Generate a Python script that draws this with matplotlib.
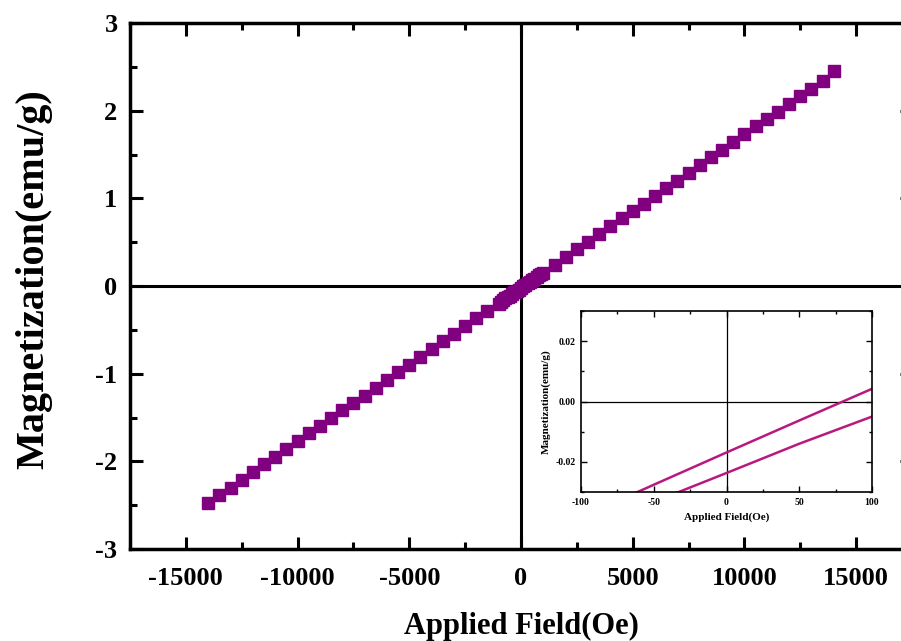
import matplotlib.pyplot as plt
from matplotlib.ticker import MultipleLocator, FixedLocator

plt.rcParams['font.family'] = ['Liberation Serif', 'DejaVu Serif']
plt.rcParams['font.weight'] = 'bold'
plt.rcParams['axes.unicode_minus'] = False

# main loop (Oe, emu/g)
campo = [-14000, -13500, -13000, -12500, -12000, -11500, -11000, -10500, -10000,
         -9500, -9000, -8500, -8000, -7500, -7000, -6500, -6000, -5500, -5000,
         -4500, -4000, -3500, -3000, -2500, -2000, -1500, -1000, -500, 0,
         500, 1000, 1500, 2000, 2500, 3000, 3500, 4000, 4500, 5000, 5500, 6000,
         6500, 7000, 7500, 8000, 8500, 9000, 9500, 10000, 10500, 11000, 11500,
         12000, 12500, 13000, 13500, 14000]
magn = [-2.47, -2.38, -2.30, -2.21, -2.12, -2.03, -1.95, -1.86, -1.77,
        -1.68, -1.60, -1.51, -1.42, -1.33, -1.25, -1.16, -1.07, -0.98, -0.90,
        -0.81, -0.72, -0.63, -0.55, -0.46, -0.37, -0.28, -0.20, -0.11, -0.02,
        0.07, 0.15, 0.24, 0.33, 0.42, 0.50, 0.59, 0.68, 0.77, 0.85, 0.94, 1.03,
        1.12, 1.20, 1.29, 1.38, 1.47, 1.55, 1.64, 1.73, 1.82, 1.90, 1.99,
        2.08, 2.17, 2.25, 2.34, 2.45]

# punti fitti vicino allo zero
campo_zero = [-900, -800, -700, -600, -400, -300, -200, -100,
              100, 200, 300, 400, 600, 700, 800, 900]
magn_zero = [-0.18, -0.16, -0.14, -0.125, -0.09, -0.07, -0.055, -0.04,
             0.0, 0.015, 0.03, 0.05, 0.085, 0.10, 0.12, 0.14]

# inset: two branches in +-100 Oe
ins_h = [-100, -50, 0, 50, 100]
ins_sup = [-0.0384, -0.0276, -0.0169, -0.0063, 0.0042]
ins_inf = [-0.0430, -0.0333, -0.0237, -0.0140, -0.0050]

fig = plt.figure(figsize=(9.01, 6.41), dpi=100)
ax = fig.add_axes([130/901, 92/641, 782/901, 526/641])

ax.plot(campo, magn, 's', color='#800080', ms=8.8, mec='#800080')
ax.plot(campo_zero, magn_zero, 's', color='#800080', ms=8.8, mec='#800080')

ax.axhline(0, color='black', lw=2.2, zorder=1)
ax.axvline(0, color='black', lw=2.2, zorder=1)

ax.set_xlim(-17500, 17500)
ax.set_ylim(-3, 3)
ax.xaxis.set_major_locator(FixedLocator([-15000, -10000, -5000, 0, 5000, 10000, 15000]))
ax.xaxis.set_minor_locator(MultipleLocator(2500))
ax.yaxis.set_major_locator(MultipleLocator(1))
ax.yaxis.set_minor_locator(MultipleLocator(0.5))
ax.tick_params(which='both', direction='in', top=True, right=True, width=2.2)
ax.tick_params(which='major', length=9, labelsize=19)
ax.tick_params(axis='x', which='major', pad=13)
ax.tick_params(axis='y', which='major', pad=9)
ax.tick_params(which='minor', length=5)
for s in ax.spines.values():
    s.set_linewidth(2.5)

ax.set_xlabel('Applied Field(Oe)', fontsize=22, fontweight='bold', labelpad=16)
ax.set_ylabel('Magnetization(emu/g)', fontsize=29, fontweight='bold')
ax.yaxis.set_label_coords(-0.099, 0.513)

# inset
axi = fig.add_axes([581/901, 149/641, 291/901, 181/641])
axi.plot(ins_h, ins_sup, color='#B8197F', lw=1.8)
axi.plot(ins_h, ins_inf, color='#B8197F', lw=1.8)
axi.axhline(0, color='black', lw=0.9, zorder=1)
axi.axvline(0, color='black', lw=0.9, zorder=1)
axi.set_xlim(-100, 100)
axi.set_ylim(-0.03, 0.03)
axi.xaxis.set_major_locator(MultipleLocator(50))
axi.xaxis.set_minor_locator(MultipleLocator(25))
axi.yaxis.set_major_locator(FixedLocator([-0.02, 0.0, 0.02]))
axi.yaxis.set_minor_locator(MultipleLocator(0.01))
axi.yaxis.set_major_formatter(plt.FuncFormatter(lambda v, p: f'{v:.2f}'))
axi.tick_params(which='both', direction='in', top=True, right=True, width=1)
axi.tick_params(which='major', length=4, labelsize=7, pad=4)
axi.tick_params(which='minor', length=2)
for s in axi.spines.values():
    s.set_linewidth(1.2)
axi.set_xlabel('Applied Field(Oe)', fontsize=8, fontweight='bold', labelpad=4)
axi.set_ylabel('Magnetization(emu/g)', fontsize=8, fontweight='bold', labelpad=3)

fig.savefig('out.png', dpi=100)
